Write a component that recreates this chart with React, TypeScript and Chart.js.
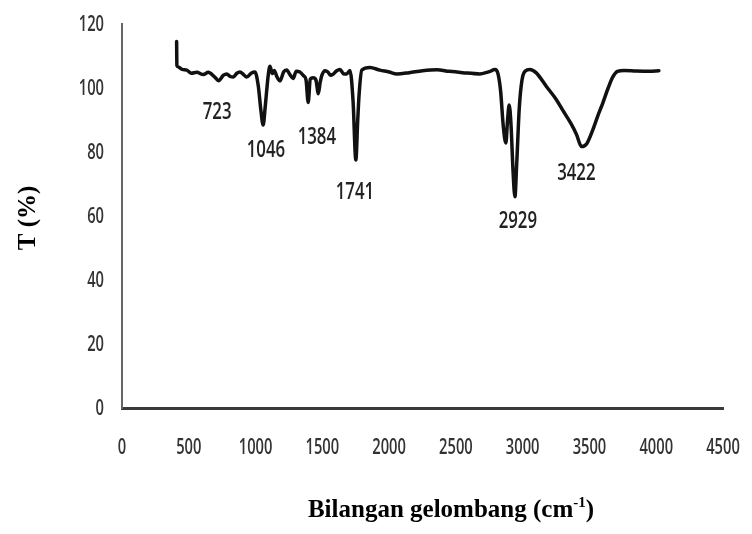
import React, { useEffect, useRef } from 'react';
import { Chart, registerables } from 'chart.js';

Chart.register(...registerables);

// Wavenumber (cm-1)
const wavenumber = [
  409, 411, 420, 450, 485, 520, 560, 609, 646, 695, 723, 760, 784, 810, 833, 860, 883, 910, 933, 970,
  995, 1020, 1040, 1057, 1072, 1083, 1095, 1108, 1125, 1140, 1160, 1183, 1210, 1233, 1260, 1281, 1305,
  1332, 1360, 1378, 1394, 1410, 1431, 1452, 1470, 1484, 1497, 1520, 1542, 1560, 1580, 1605, 1632, 1660,
  1682, 1707, 1730, 1751, 1765, 1776, 1796, 1856, 1931, 2000, 2058, 2150, 2250, 2358, 2450, 2550, 2680,
  2750, 2792, 2815, 2835, 2855, 2874, 2887, 2899, 2912, 2928, 2942, 2955, 2975, 2995, 3020, 3054, 3100,
  3179, 3250, 3301, 3360, 3403, 3441, 3480, 3525, 3560, 3600, 3640, 3675, 3710, 3760, 3850, 3950, 4020,
];

// Transmittance (%)
const transmittance = [
  114.5, 107, 106.6, 105.8, 105.6, 104.6, 104.9, 104.2, 104.9, 103.4, 102.3, 104.0, 104.4, 103.6, 103.4,
  104.6, 105.0, 104.2, 103.4, 104.7, 105.0, 100.8, 93, 88.4, 94, 99, 104, 106.8, 104.5, 105.5, 103.5,
  102.2, 105.0, 105.6, 104.0, 103.0, 105.2, 105.0, 103.8, 102.5, 95.5, 102.8, 103.2, 102.5, 98.2, 101.8,
  104.0, 105.4, 105.0, 104.0, 104.3, 105.3, 105.8, 104.4, 104.4, 105.5, 96, 77.5, 90, 98.4, 105.6, 106.4,
  105.6, 105, 104.4, 104.8, 105.4, 105.7, 105.2, 104.8, 104.4, 105.1, 105.8, 104.5, 99, 88, 82.8, 90,
  94.7, 89, 74, 66, 76, 94, 102.5, 105.3, 105.8, 104.8, 100.4, 96.5, 93, 89, 85.5, 81.7, 82.6, 86.9, 91,
  95.3, 100, 103.5, 105.2, 105.5, 105.3, 105.2, 105.4,
];

// Axis ticks
const xTicks = [0, 500, 1000, 1500, 2000, 2500, 3000, 3500, 4000, 4500];
const yTicks = [0, 20, 40, 60, 80, 100, 120];

// Peak annotations (label text, position in data units)
const peakLabels = ['723', '1046', '1384', '1741', '2929', '3422'];
const peakLabelX = [712, 1078, 1459, 1744, 2964, 3402];
const peakLabelY = [92.5, 80.5, 84.5, 67.5, 58.5, 73.5];

const yTitle = 'T (%)';
const xTitleMain = 'Bilangan gelombang (cm';
const xTitleSup = '-1';
const xTitleEnd = ')';

function drawCondensed(
  ctx: CanvasRenderingContext2D,
  text: string,
  x: number,
  y: number,
  sx: number,
  align: CanvasTextAlign
) {
  ctx.save();
  ctx.translate(x, y);
  ctx.scale(sx, 1);
  ctx.textAlign = align;
  ctx.textBaseline = 'middle';
  ctx.fillText(text, 0, 0);
  ctx.restore();
}

const textPlugin = {
  id: 'textPlugin',
  afterDraw(chart: any) {
    const ctx: CanvasRenderingContext2D = chart.ctx;
    const xs = chart.scales.x;
    const ys = chart.scales.y;
    const area = chart.chartArea;
    ctx.save();

    // tick labels
    ctx.fillStyle = '#333';
    ctx.font = '600 21px "Open Sans", Lato, sans-serif';
    xTicks.forEach((v) => {
      drawCondensed(ctx, String(v), xs.getPixelForValue(v), area.bottom + 40, 0.7, 'center');
    });
    yTicks.forEach((v) => {
      drawCondensed(ctx, String(v), area.left - 18, ys.getPixelForValue(v) + 1, 0.7, 'right');
    });

    // peak labels
    ctx.fillStyle = '#222';
    ctx.font = '600 24px "Open Sans", Lato, sans-serif';
    peakLabels.forEach((t, i) => {
      drawCondensed(ctx, t, xs.getPixelForValue(peakLabelX[i]), ys.getPixelForValue(peakLabelY[i]), 0.7, 'center');
    });

    // y title
    ctx.fillStyle = '#000';
    ctx.font = 'bold 25px "Liberation Serif", "Times New Roman", serif';
    ctx.save();
    ctx.translate(29, (area.top + area.bottom) / 2 + 2);
    ctx.rotate(-Math.PI / 2);
    ctx.textAlign = 'center';
    ctx.textBaseline = 'middle';
    ctx.fillText(yTitle, 0, 0);
    ctx.restore();

    // x title with superscript
    const mainFont = 'bold 25px "Liberation Serif", "Times New Roman", serif';
    const supFont = 'bold 15px "Liberation Serif", "Times New Roman", serif';
    ctx.font = mainFont;
    const w1 = ctx.measureText(xTitleMain).width;
    const w3 = ctx.measureText(xTitleEnd).width;
    ctx.font = supFont;
    const w2 = ctx.measureText(xTitleSup).width;
    const total = w1 + w2 + w3;
    const cx = 451;
    const baseY = 517;
    const x0 = cx - total / 2;
    ctx.textAlign = 'left';
    ctx.textBaseline = 'alphabetic';
    ctx.font = mainFont;
    ctx.fillText(xTitleMain, x0, baseY);
    ctx.font = supFont;
    ctx.fillText(xTitleSup, x0 + w1, baseY - 10);
    ctx.font = mainFont;
    ctx.fillText(xTitleEnd, x0 + w1 + w2, baseY);

    ctx.restore();
  },
};

export default function App() {
  const ref = useRef<HTMLCanvasElement | null>(null);

  useEffect(() => {
    if (!ref.current) return;
    const points = wavenumber.map((w, i) => ({ x: w, y: transmittance[i] }));
    const chart = new Chart(ref.current, {
      type: 'line',
      data: {
        datasets: [
          {
            label: 'FTIR',
            data: points,
            borderColor: '#111',
            borderWidth: 3.5,
            pointRadius: 0,
            fill: false,
            cubicInterpolationMode: 'monotone',
            borderJoinStyle: 'round',
            borderCapStyle: 'round',
          },
        ],
      },
      options: {
        responsive: false,
        animation: false,
        layout: { padding: { left: 0, top: 24, right: 29, bottom: 0 } },
        plugins: {
          legend: { display: false },
          tooltip: { enabled: false },
        },
        scales: {
          x: {
            type: 'linear',
            min: 0,
            max: 4500,
            afterBuildTicks: (s: any) => {
              s.ticks = xTicks.map((v) => ({ value: v }));
            },
            afterFit: (s: any) => {
              s.height = 126;
            },
            ticks: { display: false },
            grid: { display: false },
            border: { display: true, color: '#3a3a3a', width: 3 },
          },
          y: {
            type: 'linear',
            min: 0,
            max: 120,
            afterBuildTicks: (s: any) => {
              s.ticks = yTicks.map((v) => ({ value: v }));
            },
            afterFit: (s: any) => {
              s.width = 122;
            },
            ticks: { display: false },
            grid: { display: false },
            border: { display: true, color: '#666', width: 2 },
          },
        },
      },
      plugins: [textPlugin],
    });
    return () => chart.destroy();
  }, []);

  return (
    <div style={{ position: 'fixed', left: 0, top: 0, width: 752, height: 534, background: '#fff' }}>
      <canvas ref={ref} width={752} height={534} />
    </div>
  );
}
